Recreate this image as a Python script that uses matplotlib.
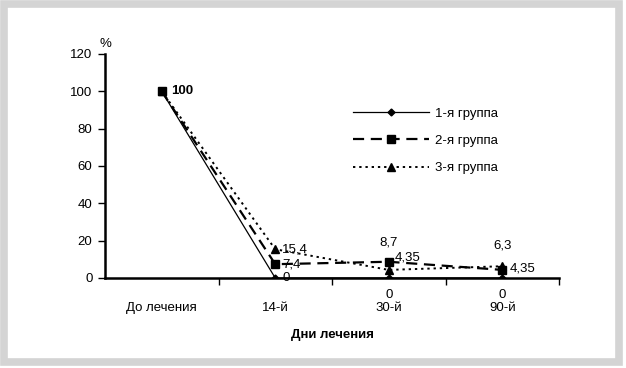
import matplotlib.pyplot as plt
from matplotlib.patches import Rectangle

plt.rcParams['font.family'] = ['Liberation Sans', 'DejaVu Sans']

days = ['До лечения', '14-й', '30-й', '90-й']
group1 = [100, 0, 0, 0]
group2 = [100, 7.4, 8.7, 4.35]
group3 = [100, 15.4, 4.35, 6.3]
names = ['1-я группа', '2-я группа', '3-я группа']

fig = plt.figure(figsize=(6.26, 3.68), dpi=100)

# серая рамка вокруг рисунка
fig.patches.append(Rectangle((4 / 626, 6 / 368), 615 / 626, 358 / 368,
                             transform=fig.transFigure, fill=False,
                             edgecolor='#d4d4d4', linewidth=5.5))

ax = fig.add_axes([105 / 626, 90 / 368, 454 / 626, 224 / 368])
x = range(len(days))
ax.plot(x, group1, color='black', lw=0.9, marker='D', ms=3.5, label=names[0])
ax.plot(x, group2, color='black', lw=1.6, ls=(0, (5, 3)), marker='s', ms=6,
        label=names[1])
ax.plot(x, group3, color='black', lw=1.4, ls=(0, (1.2, 2)), marker='^', ms=6,
        label=names[2])

ax.set_xlim(-0.5, 3.5)
ax.set_ylim(0, 120)
ax.set_yticks(range(0, 121, 20))
ax.set_xticks(list(x))
ax.set_xticklabels(days)
ax.set_xticks([0.5, 1.5, 2.5, 3.5], minor=True)
ax.tick_params(axis='x', which='major', length=0, pad=17, labelsize=9.5)
ax.tick_params(axis='x', which='minor', length=5, width=1, direction='out')
ax.tick_params(axis='y', length=5, width=1, labelsize=9.5, pad=4)
for s in ['top', 'right']:
    ax.spines[s].set_visible(False)
for s in ['left', 'bottom']:
    ax.spines[s].set_linewidth(1.8)
ax.spines['bottom'].set_clip_on(False)

ax.set_xlabel('Дни лечения', fontweight='bold', fontsize=9.5, labelpad=11)
ax.text(-0.5, 122, '%', ha='center', va='bottom', fontsize=9.5)

def lab(xi, yi, txt, dx, dy, **kw):
    ax.annotate(txt, (xi, yi), xytext=(dx, dy), textcoords='offset points',
                ha=kw.pop('ha', 'left'), va='center', fontsize=9.5, **kw)

lab(0, group2[0], '100', 7, 0, fontweight='bold')
lab(1, group3[1], '15,4', 5, 0)
lab(1, group2[1], '7,4', 5, 0)
lab(1, group1[1], '0', 5, 0)
lab(2, group2[2], '8,7', 0, 14, ha='center')
lab(2, group2[2], '4,35', 4, 3)
lab(2, 0, '0', 0, -12, ha='center')
lab(3, group3[3], '6,3', 0, 15, ha='center')
lab(3, group2[3], '4,35', 5, 1)
lab(3, 0, '0', 0, -12, ha='center')

ax.legend(loc='upper left', bbox_to_anchor=(0.52, 0.815), frameon=False,
          handlelength=5.8, handletextpad=0.4, labelspacing=1.15,
          fontsize=9.5)

fig.savefig('out.png', dpi=100)
